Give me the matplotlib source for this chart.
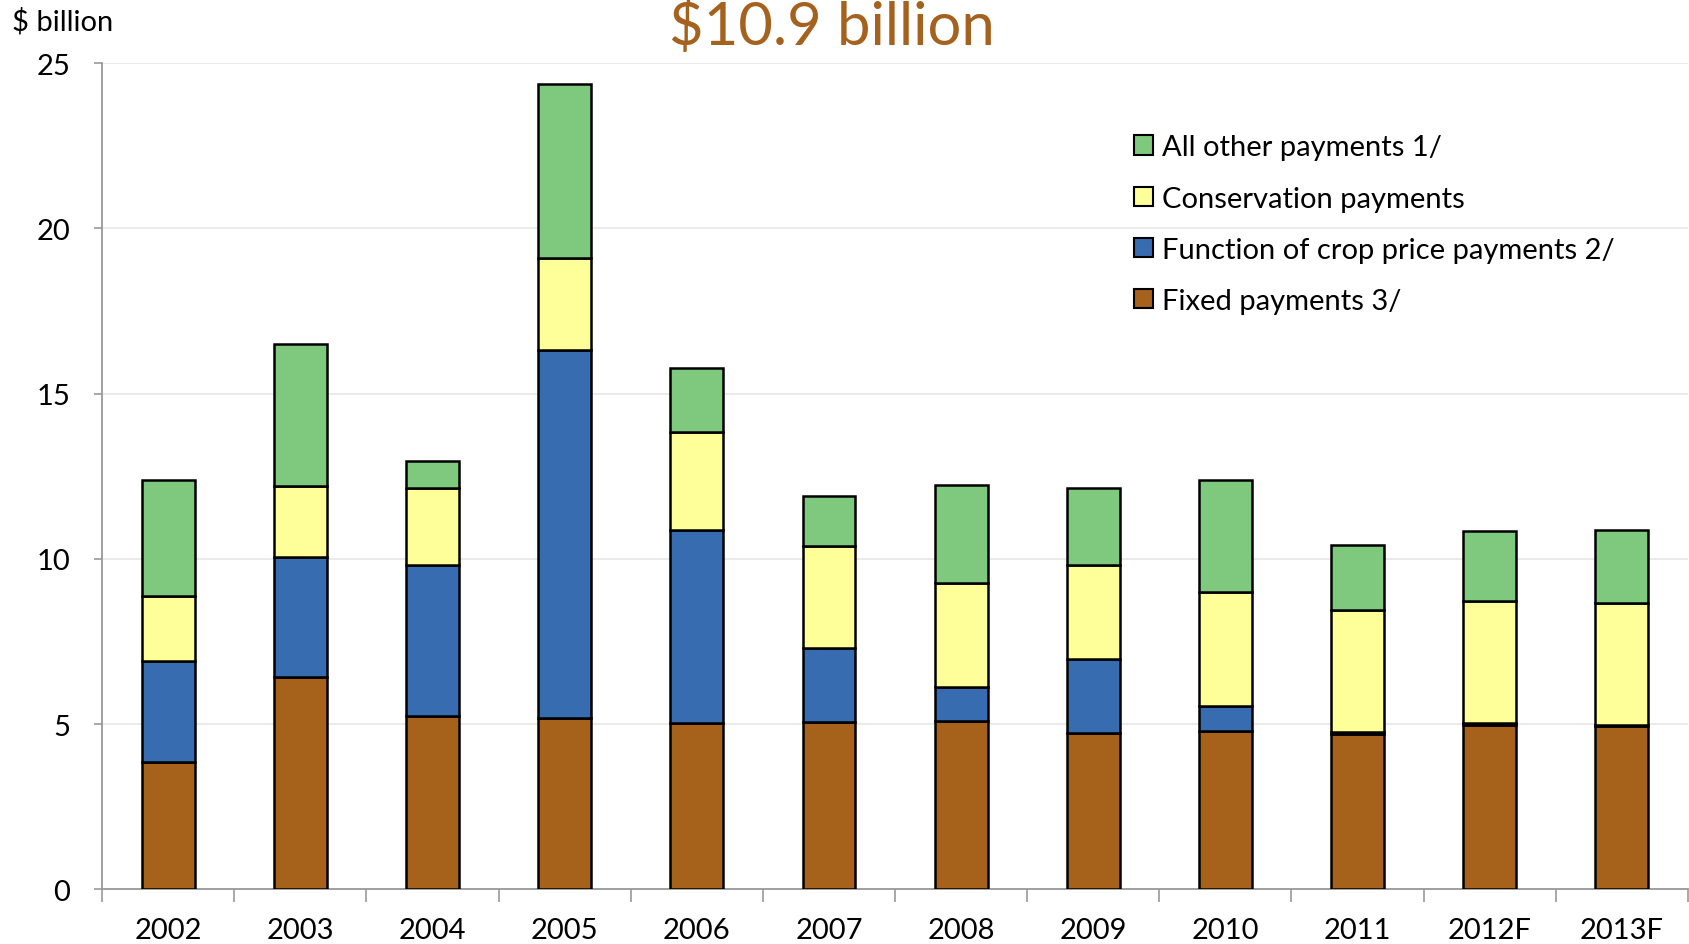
import matplotlib
matplotlib.use("Agg")
import matplotlib.pyplot as plt
from matplotlib.patches import Patch
import numpy as np

plt.rcParams['font.family'] = ['Lato', 'DejaVu Sans']

years = ["2002", "2003", "2004", "2005", "2006", "2007", "2008", "2009",
         "2010", "2011", "2012F", "2013F"]

# $ billion, stacked bottom to top
fixed = [3.86, 6.42, 5.24, 5.20, 5.05, 5.06, 5.10, 4.72, 4.80, 4.71, 4.96, 4.93]
crop_price = [3.05, 3.63, 4.58, 11.13, 5.82, 2.25, 1.03, 2.26, 0.75, 0.06, 0.06, 0.03]
conservation = [1.97, 2.17, 2.32, 2.77, 2.98, 3.07, 3.14, 2.83, 3.45, 3.67, 3.70, 3.70]
all_other = [3.50, 4.29, 0.83, 5.28, 1.93, 1.52, 2.96, 2.33, 3.38, 1.98, 2.12, 2.21]

series_labels = ["Fixed payments 3/", "Function of crop price payments 2/",
                 "Conservation payments", "All other payments 1/"]
series_colors = ["#A6611A", "#386CB0", "#FFFF99", "#7FC97F"]

fig = plt.figure(figsize=(16.9, 9.45), dpi=100)
ax = fig.add_axes([0.0604, 0.0578, 0.9384, 0.8742])

x = np.arange(len(years))
bottom = np.zeros(len(years))
for vals, color in zip([fixed, crop_price, conservation, all_other], series_colors):
    v = np.array(vals)
    ax.bar(x, v, width=0.4, bottom=bottom, color=color, edgecolor="black",
           linewidth=1.8, zorder=3)
    bottom += v

ax.set_xlim(-0.5, len(years) - 0.5)
ax.set_ylim(0, 25)
ax.set_yticks([0, 5, 10, 15, 20, 25])
ax.yaxis.grid(True, color="#e6e6e6", linewidth=1.2, zorder=0)
ax.set_axisbelow(True)

# category boundaries carry the tick marks, labels sit under each bar
ax.set_xticks(np.arange(-0.5, len(years), 1.0))
ax.set_xticklabels([])
ax.set_xticks(x, minor=True)
ax.set_xticklabels(years, minor=True)
ax.tick_params(axis="x", which="major", length=9, width=1.2, color="#999999",
               direction="out")
ax.tick_params(axis="x", which="minor", length=0, labelsize=21, pad=20)
ax.tick_params(axis="y", length=6, width=1.2, color="#999999", labelsize=21,
               pad=17)

for side in ["top", "right"]:
    ax.spines[side].set_visible(False)
for side in ["left", "bottom"]:
    ax.spines[side].set_color("#999999")
    ax.spines[side].set_linewidth(1.3)

fig.text(0.007, 0.977, "$ billion", fontsize=21, ha="left", va="center")
fig.text(0.492, 0.972, "$10.9 billion", fontsize=43, color="#A5621E",
         ha="center", va="center")

handles = [Patch(facecolor=c, edgecolor="black", linewidth=1.5)
           for c in series_colors[::-1]]
ax.legend(handles, series_labels[::-1], loc="upper left",
          bbox_to_anchor=(0.664, 0.869), bbox_transform=fig.transFigure,
          frameon=False, fontsize=21, handlelength=0.65, handleheight=0.65,
          handletextpad=0.3, labelspacing=0.86, borderaxespad=0)

fig.savefig("out.png", dpi=100)
